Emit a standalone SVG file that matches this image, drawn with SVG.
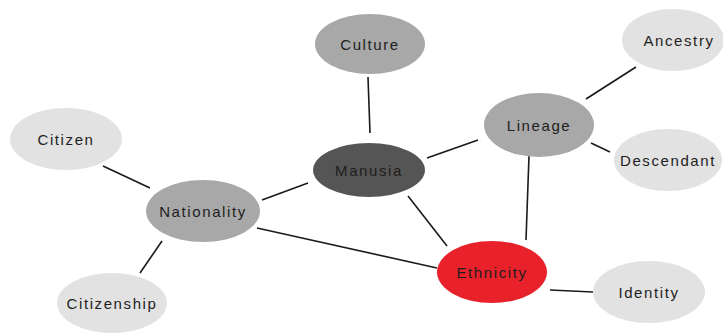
<svg xmlns="http://www.w3.org/2000/svg" width="723" height="333" viewBox="0 0 723 333">
<style>
.mid{fill:#a8a8a8}
.light{fill:#e2e2e2}
.dark{fill:#555555}
.red{fill:#e8212b}
text{font-family:"Liberation Sans",Arial,sans-serif;font-size:15px;fill:#1e1e1e;text-anchor:middle;dominant-baseline:central;letter-spacing:1.6px}
.edges line{stroke:#1a1a1a;stroke-width:1.6}
</style>
<rect width="723" height="333" fill="#ffffff"/>
<g class="edges">
<line x1="368" y1="77" x2="370" y2="133"/>
<line x1="427" y1="158" x2="478" y2="140"/>
<line x1="408" y1="196" x2="447" y2="246"/>
<line x1="308" y1="183" x2="262" y2="200"/>
<line x1="586" y1="99" x2="636" y2="67"/>
<line x1="591" y1="143" x2="610" y2="152"/>
<line x1="529" y1="156" x2="526" y2="240"/>
<line x1="103" y1="166" x2="150" y2="188"/>
<line x1="162" y1="241" x2="140" y2="273"/>
<line x1="257" y1="228" x2="437" y2="268"/>
<line x1="550" y1="290" x2="593" y2="292"/>
</g>
<g id="culture"><ellipse class="mid" cx="370" cy="44" rx="55" ry="30"/><text x="370" y="44">Culture</text></g>
<g id="manusia"><ellipse class="dark" cx="369" cy="170" rx="56" ry="27"/><text x="369" y="170">Manusia</text></g>
<g id="lineage"><ellipse class="mid" cx="539" cy="125" rx="55" ry="32"/><text x="539" y="125">Lineage</text></g>
<g id="ancestry"><ellipse class="light" cx="673" cy="40" rx="51" ry="31"/><text x="679" y="40">Ancestry</text></g>
<g id="descendant"><ellipse class="light" cx="668" cy="160" rx="54" ry="31"/><text x="668" y="160">Descendant</text></g>
<g id="citizen"><ellipse class="light" cx="66" cy="139" rx="56" ry="31"/><text x="66" y="139">Citizen</text></g>
<g id="nationality"><ellipse class="mid" cx="203" cy="211" rx="57" ry="31"/><text x="203" y="211">Nationality</text></g>
<g id="citizenship"><ellipse class="light" cx="112" cy="303" rx="55" ry="30"/><text x="112" y="303">Citizenship</text></g>
<g id="ethnicity"><ellipse class="red" cx="492" cy="272" rx="55" ry="31"/><text x="492" y="272">Ethnicity</text></g>
<g id="identity"><ellipse class="light" cx="649" cy="292" rx="56" ry="31"/><text x="649" y="292">Identity</text></g>
</svg>
